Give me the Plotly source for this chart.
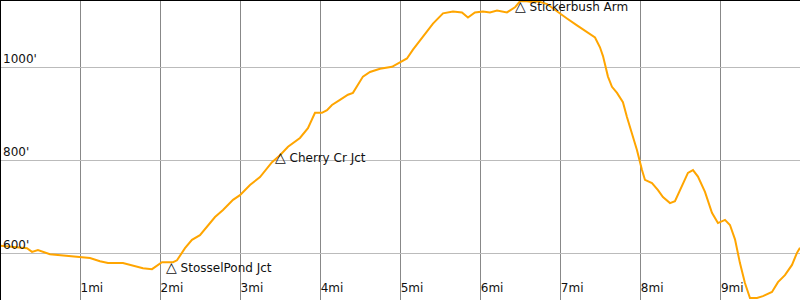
import plotly.graph_objects as go

# distance along trail (miles)
dist = [0.0, 0.119, 0.244, 0.331, 0.394, 0.468, 0.618, 0.743, 0.868, 0.993,
        1.118, 1.243, 1.343, 1.530, 1.655, 1.780, 1.893, 1.955, 2.017, 2.155,
        2.205, 2.305, 2.392, 2.492, 2.580, 2.680, 2.780, 2.905, 2.992, 3.117,
        3.242, 3.329, 3.392, 3.492, 3.592, 3.741, 3.841, 3.929, 4.016, 4.079,
        4.141, 4.241, 4.341, 4.403, 4.453, 4.528, 4.616, 4.741, 4.891, 4.991,
        5.078, 5.153, 5.278, 5.403, 5.528, 5.653, 5.765, 5.840, 5.927, 6.027,
        6.115, 6.203, 6.327, 6.427, 6.490, 6.577, 6.652, 6.715, 6.827, 6.952,
        7.077, 7.202, 7.327, 7.427, 7.489, 7.527, 7.589, 7.639, 7.702, 7.776,
        7.826, 7.889, 7.951, 8.014, 8.051, 8.139, 8.214, 8.276, 8.364, 8.426,
        8.513, 8.588, 8.651, 8.713, 8.801, 8.888, 8.963, 9.051, 9.113, 9.176,
        9.238, 9.300, 9.363, 9.451, 9.525, 9.638, 9.713, 9.800, 9.888, 9.950,
        9.988]

# elevation (feet)
elev = [616, 614, 611, 611, 603, 607, 598, 596, 594, 592,
        590, 583, 579, 579, 574, 568, 566, 574, 581, 581,
        585, 611, 629, 639, 657, 678, 693, 715, 725, 747,
        764, 783, 796, 811, 829, 848, 869, 902, 902, 908,
        919, 930, 941, 945, 958, 980, 990, 997, 1001, 1010,
        1019, 1038, 1066, 1094, 1116, 1120, 1118, 1107, 1118, 1120,
        1118, 1122, 1118, 1129, 1142, 1142, 1140, 1142, 1136, 1120,
        1105, 1090, 1075, 1064, 1043, 1024, 980, 958, 945, 925,
        893, 859, 822, 779, 758, 751, 736, 721, 708, 712,
        743, 773, 779, 765, 732, 687, 665, 672, 661, 630,
        579, 536, 504, 504, 508, 517, 538, 553, 575, 601,
        612]

# waypoints
wp_names = ["StosselPond Jct", "Cherry Cr Jct", "Stickerbush Arm"]
wp_dist = [2.136, 3.498, 6.496]
wp_elev = [579, 815, 1140]

x_ticks = [1, 2, 3, 4, 5, 6, 7, 8, 9]
x_labels = ["1mi", "2mi", "3mi", "4mi", "5mi", "6mi", "7mi", "8mi", "9mi"]
y_ticks = [600, 800, 1000]
y_labels = ["600'", "800'", "1000'"]

FONT = "DejaVu Sans"

fig = go.Figure()
fig.add_trace(go.Scatter(
    x=dist, y=elev, mode="lines",
    line=dict(color="#FFA500", width=2),
    hoverinfo="skip", showlegend=False,
))

for name, dx, ey in zip(wp_names, wp_dist, wp_elev):
    fig.add_annotation(
        x=dx, y=ey, xref="x", yref="y",
        text="<span style='font-size:14px'>\u25b3</span> " + name, showarrow=False,
        xanchor="left", yanchor="top",
        xshift=-7, yshift=6,
        font=dict(family=FONT, size=12, color="#111111"),
    )

fig.update_layout(
    width=800, height=300,
    margin=dict(l=0, r=0, t=0, b=0),
    paper_bgcolor="white", plot_bgcolor="white",
    font=dict(family=FONT, size=12, color="#111111"),
    showlegend=False,
    xaxis=dict(
        range=[-0.006, 9.988],
        tickmode="array", tickvals=x_ticks, ticktext=x_labels,
        ticklabelposition="inside right",
        showgrid=True, gridcolor="#888888", gridwidth=1,
        zeroline=False, showline=False, ticks="",
        tickfont=dict(family=FONT, size=12, color="#111111"),
        fixedrange=True,
    ),
    yaxis=dict(
        range=[499.6, 1144.7],
        tickmode="array", tickvals=y_ticks, ticktext=y_labels,
        ticklabelposition="inside top",
        showgrid=True, gridcolor="#bbbbbb", gridwidth=1,
        zeroline=False, showline=False, ticks="",
        tickfont=dict(family=FONT, size=12, color="#111111"),
        fixedrange=True,
    ),
    shapes=[
        dict(type="line", xref="paper", yref="paper", x0=0, x1=1, y0=1, y1=1,
             line=dict(color="black", width=2)),
        dict(type="line", xref="paper", yref="paper", x0=0, x1=0, y0=0, y1=1,
             line=dict(color="black", width=2)),
    ],
)

fig.write_html("out.html")
